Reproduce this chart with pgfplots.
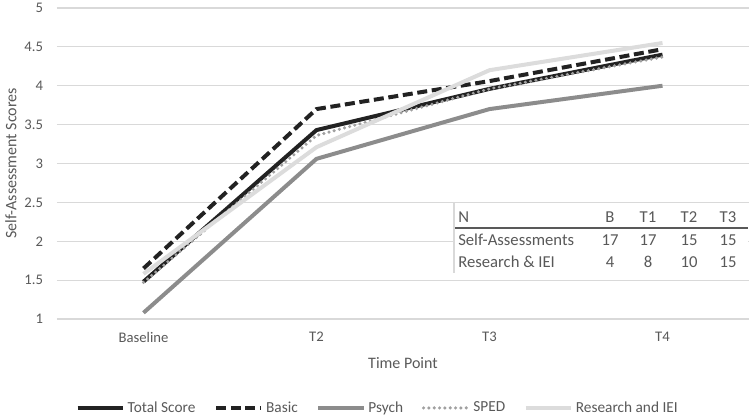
\documentclass[border=0pt]{standalone}
\usepackage{fontspec}
\setmainfont{Carlito}
\usepackage{pgfplots}
\pgfplotsset{compat=1.18}
\definecolor{txt}{HTML}{595959}
\definecolor{gridc}{HTML}{D9D9D9}
\definecolor{psych}{HTML}{8C8C8C}
\definecolor{sped}{HTML}{A0A0A0}
\definecolor{res}{HTML}{DCDCDC}
\definecolor{blk}{HTML}{222222}
\begin{document}
\begin{tikzpicture}
\useasboundingbox (-42.75pt,-74.25pt) rectangle (519.75pt,239.25pt);
\begin{axis}[
  at={(0,0)}, anchor=south west,
  scale only axis, width=519pt, height=233.25pt,
  xmin=-0.5, xmax=3.5, ymin=1, ymax=5,
  axis line style={draw=none},
  major tick length=0pt,
  xtick={0,1,2,3}, xticklabels={Baseline,T2,T3,T4},
  ytick={1,1.5,2,2.5,3,3.5,4,4.5,5},
  ymajorgrids, grid style={gridc, line width=0.9pt},
  /pgf/number format/assume math mode=true,
  ticklabel style={font=\fontsize{11}{13}\selectfont, text=txt},
  yticklabel style={xshift=-7pt},
  xticklabel style={yshift=-6.5pt},
  xlabel={Time Point}, ylabel={Self-Assessment Scores},
  label style={font=\fontsize{12}{14}\selectfont, text=txt},
  xlabel style={at={(axis description cs:0.5,-0.1415)}, anchor=center},
  ylabel style={at={(axis description cs:-0.0665,0.5)}, anchor=center},
  legend columns=5,
  legend style={at={(axis description cs:0.464,-0.286)}, anchor=center, draw=none, fill=none,
    font=\fontsize{11.5}{13}\selectfont, text=txt,
    /tikz/every even column/.append style={column sep=12pt},
    inner sep=0pt},
  legend image code/.code={\draw[#1] (0pt,0pt) -- (34pt,0pt);},
]
\addplot[blk, line width=3pt] coordinates {(0,1.48) (1,3.43) (2,3.96) (3,4.40)};
\addlegendentry{Total Score}
\addplot[blk, line width=3pt, dash pattern=on 7.5pt off 3.5pt] coordinates {(0,1.65) (1,3.70) (2,4.06) (3,4.47)};
\addlegendentry{Basic}
\addplot[psych, line width=3pt] coordinates {(0,1.08) (1,3.06) (2,3.70) (3,4.00)};
\addlegendentry{Psych}
\addplot[sped, line width=2.6pt, line cap=round, dash pattern=on 0pt off 4pt] coordinates {(0,1.47) (1,3.36) (2,3.96) (3,4.37)};
\addlegendentry{SPED}
\addplot[res, line width=3pt] coordinates {(0,1.58) (1,3.21) (2,4.20) (3,4.55)};
\addlegendentry{Research and IEI}
\end{axis}
% inset table, px coordinates of the 750x418 reference
\begin{scope}[shift={(-42.75pt,239.25pt)}, x=0.75pt, y=-0.75pt]
  \fill[white] (454,203.5) rectangle (748,273);
  \draw[gridc, line width=0.8pt] (454,203.5) -- (454,273);
  \draw[txt, line width=1pt] (455,228) -- (748,228);
  \begin{scope}[every node/.style={font=\fontsize{12.5}{14}\selectfont, text=txt, inner sep=0pt}]
    \node[anchor=west] at (458,217) {N};
    \node at (610,217) {B};
    \node at (648,217) {T1};
    \node at (689,217) {T2};
    \node at (728,217) {T3};
    \node[anchor=west] at (458,240) {Self-Assessments};
    \node at (610,240) {17};
    \node at (648,240) {17};
    \node at (689,240) {15};
    \node at (728,240) {15};
    \node[anchor=west] at (458,262) {Research \& IEI};
    \node at (610,262) {4};
    \node at (648,262) {8};
    \node at (689,262) {10};
    \node at (728,262) {15};
  \end{scope}
\end{scope}
\end{tikzpicture}
\end{document}
